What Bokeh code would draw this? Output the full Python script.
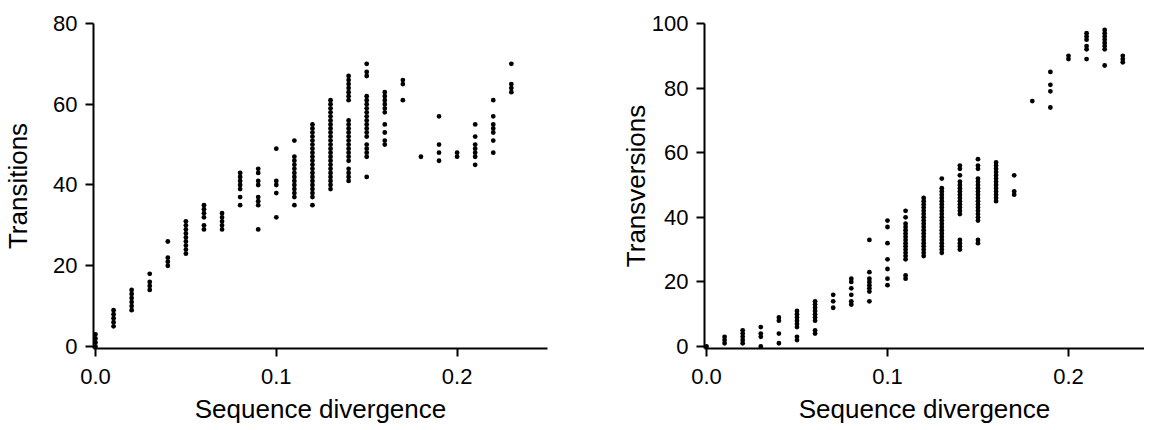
from bokeh.plotting import figure
from bokeh.layouts import row
from bokeh.models import Range1d, FixedTicker, PrintfTickFormatter
from bokeh.embed import file_html
from bokeh.resources import INLINE

# ---- data ----
divergence = [0.00, 0.01, 0.02, 0.03, 0.04, 0.05, 0.06, 0.07, 0.08, 0.09, 0.10, 0.11,
              0.12, 0.13, 0.14, 0.15, 0.16, 0.17, 0.18, 0.19, 0.20, 0.21, 0.22, 0.23]

transitions = [
    [0, 1, 2, 3],
    [5, 6, 7, 8, 9],
    [9, 10, 11, 12, 13, 14],
    [14, 15, 16, 18],
    [20, 21, 22, 26],
    [23, 24, 25, 26, 27, 28, 29, 30, 31],
    [29, 30, 32, 33, 34, 35],
    [29, 30, 31, 32, 33],
    [35, 37, 39, 40, 41, 42, 43],
    [29, 35, 36, 37, 40, 41, 43, 44],
    [32, 38, 40, 41, 49],
    [35, 37, 38, 39, 40, 41, 42, 43, 44, 45, 46, 47, 51],
    [35, 37, 38, 39, 40, 41, 42, 43, 44, 45, 46, 47, 48, 49, 50, 51, 52, 53, 54, 55],
    [39, 40, 41, 42, 43, 44, 45, 46, 47, 48, 49, 50, 51, 52, 53, 54, 55, 56, 57, 58, 59, 60, 61],
    [41, 42, 43, 44, 46, 47, 48, 49, 50, 51, 52, 53, 54, 55, 56, 61, 62, 63, 64, 65, 66, 67],
    [42, 47, 48, 49, 50, 52, 53, 54, 55, 56, 57, 58, 59, 60, 61, 62, 67, 68, 70],
    [50, 51, 53, 55, 58, 59, 60, 61, 62, 63],
    [61, 65, 66],
    [47],
    [46, 48, 50, 57],
    [47, 48],
    [45, 47, 48, 49, 50, 52, 55],
    [48, 51, 53, 54, 55, 57, 61],
    [63, 64, 65, 70],
]

transversions = [
    [0],
    [1, 2, 3],
    [1, 2, 3, 4, 5],
    [0, 3, 4, 6],
    [1, 4, 8, 9],
    [2, 3, 6, 7, 8, 9, 10, 11],
    [4, 5, 8, 9, 10, 11, 12, 13, 14],
    [12, 14, 16],
    [13, 14, 16, 18, 20, 21],
    [14, 17, 18, 19, 20, 21, 23, 33],
    [19, 21, 24, 27, 32, 37, 39],
    [21, 22, 27, 28, 29, 30, 31, 32, 33, 34, 35, 36, 37, 38, 40, 42],
    [28, 29, 30, 31, 32, 33, 34, 35, 36, 37, 38, 39, 40, 41, 42, 43, 44, 45, 46],
    [29, 30, 31, 32, 33, 34, 35, 36, 37, 38, 39, 40, 41, 42, 43, 44, 45, 46, 47, 48, 49, 52],
    [30, 31, 32, 33, 41, 42, 43, 44, 45, 46, 47, 48, 49, 50, 51, 53, 55, 56],
    [32, 33, 39, 40, 41, 42, 43, 44, 45, 46, 47, 48, 49, 50, 51, 52, 55, 56, 58],
    [45, 46, 47, 48, 49, 50, 51, 52, 53, 54, 55, 56, 57],
    [47, 48, 53],
    [76],
    [74, 79, 81, 85],
    [89, 90],
    [89, 92, 93, 95, 96, 97],
    [87, 92, 93, 94, 95, 96, 97, 98],
    [88, 89, 90],
]

x_ticks = [0.0, 0.1, 0.2]
y_ticks_left = [0, 20, 40, 60, 80]
y_ticks_right = [0, 20, 40, 60, 80, 100]
x_title = "Sequence divergence"
y_title_left = "Transitions"
y_title_right = "Transversions"

FONT = "Liberation Sans"


def flatten(xs, groups):
    fx, fy = [], []
    for x, ys in zip(xs, groups):
        for y in ys:
            fx.append(x)
            fy.append(y)
    return fx, fy


def make_panel(groups, ytitle, yticks, ymax, ypad, width, xend, left_border,
               right_border, title_standoff):
    p = figure(width=width, height=430, output_backend="svg", toolbar_location=None,
               x_range=Range1d(-0.0011, xend), y_range=Range1d(-ypad, ymax),
               min_border_left=left_border, min_border_right=right_border,
               min_border_top=23, min_border_bottom=82)
    p.outline_line_color = None
    p.xgrid.visible = False
    p.ygrid.visible = False
    p.background_fill_color = "white"
    p.border_fill_color = "white"

    fx, fy = flatten(divergence, groups)
    p.scatter(fx, fy, size=4.8, fill_color="black", line_color=None)

    for ax in (p.xaxis[0], p.yaxis[0]):
        ax.axis_line_width = 2
        ax.axis_line_color = "black"
        ax.major_tick_line_width = 2
        ax.major_tick_line_color = "black"
        ax.major_tick_out = 8
        ax.major_tick_in = 0
        ax.minor_tick_line_color = None
        ax.major_label_text_font = FONT
        ax.major_label_text_font_size = "22px"
        ax.major_label_text_color = "black"
        ax.axis_label_text_font = FONT
        ax.axis_label_text_font_size = "26px"
        ax.axis_label_text_font_style = "normal"
        ax.axis_label_text_color = "black"

    p.xaxis[0].ticker = FixedTicker(ticks=x_ticks)
    p.xaxis[0].formatter = PrintfTickFormatter(format="%.1f")
    p.xaxis[0].axis_label = x_title
    p.xaxis[0].major_label_standoff = 12
    p.xaxis[0].axis_label_standoff = 7

    p.yaxis[0].ticker = FixedTicker(ticks=yticks)
    p.yaxis[0].axis_label = ytitle
    p.yaxis[0].major_label_standoff = 8
    p.yaxis[0].axis_label_standoff = title_standoff
    return p


p1 = make_panel(transitions, y_title_left, y_ticks_left, 80, 0.5,
                568, 0.25, 93, 21, 17)
p2 = make_panel(transversions, y_title_right, y_ticks_right, 100, 0.62,
                576, 0.2420, 136, 0, -2)

layout = row(p1, p2)
open("out.html", "w").write(file_html(layout, INLINE))
